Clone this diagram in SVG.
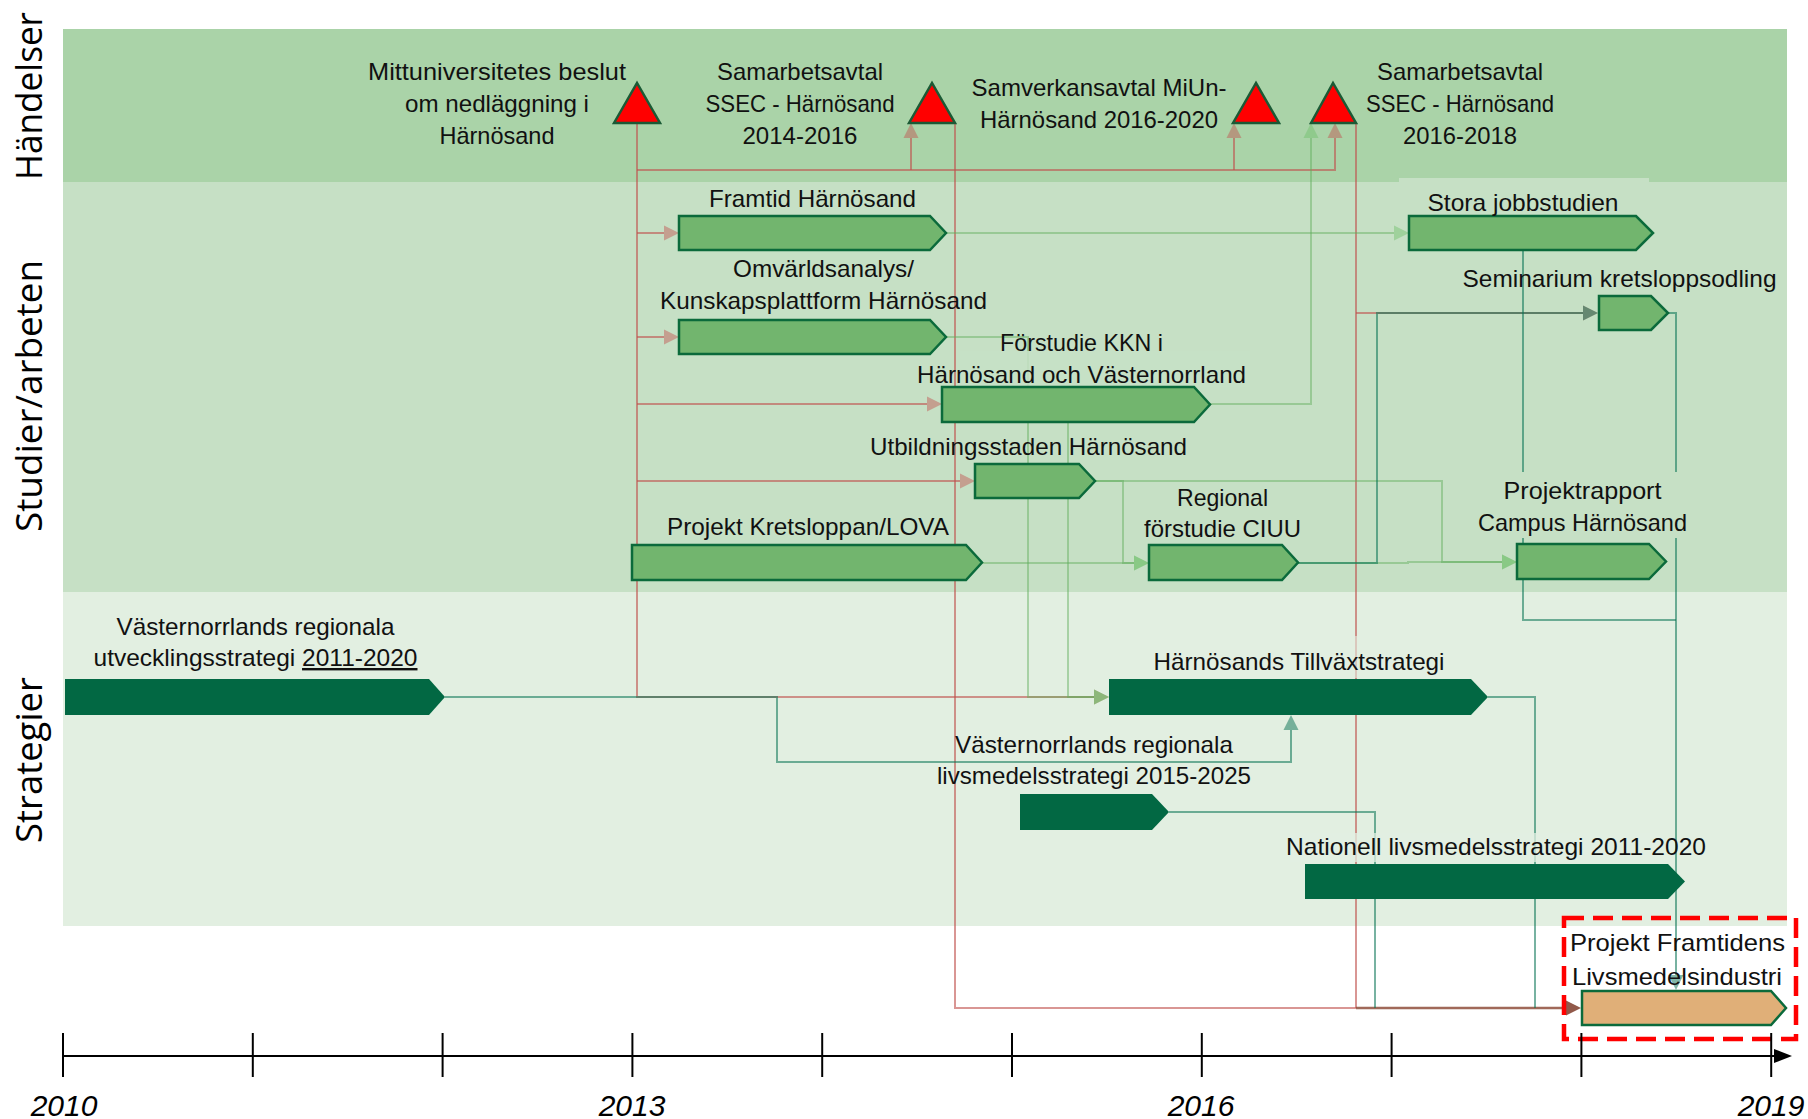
<svg xmlns="http://www.w3.org/2000/svg" width="1808" height="1119" viewBox="0 0 1808 1119">
<style>
.lbl{font-family:"Liberation Sans",Arial,sans-serif;font-size:24px;fill:#111;text-anchor:middle}
.rowt{font-family:"Open Sans","DejaVu Sans",sans-serif;font-size:36px;fill:#000;text-anchor:middle}
.year{font-family:"Liberation Sans",Arial,sans-serif;font-style:italic;font-size:30px;fill:#000;text-anchor:middle}
.study{fill:#72b56e;stroke:#0b6a3b;stroke-width:2.5;stroke-linejoin:miter}
.strat{fill:#026843}
.final{fill:#e0af78;stroke:#0b6a3b;stroke-width:2.5}
.event{fill:#ff0000;stroke:#1b5a35;stroke-width:2.5;stroke-linejoin:miter}
.cr{fill:none;stroke:#c0504d;stroke-opacity:0.6;stroke-width:2}
.cb{fill:none;stroke:#8f4f3c;stroke-opacity:0.85;stroke-width:2.5}
.cg{fill:none;stroke:#5fae5b;stroke-opacity:0.45;stroke-width:2}
.ct{fill:none;stroke:#077253;stroke-opacity:0.55;stroke-width:2}
.tick{stroke:#000;stroke-width:2}
</style>
<defs>
<marker id="aR" viewBox="0 -8 16 16" refX="0" refY="0" markerWidth="16" markerHeight="16" markerUnits="userSpaceOnUse" orient="auto"><path d="M0,-7.5 L15,0 L0,7.5 Z" fill="#c0504d" fill-opacity="0.45"/></marker>
<marker id="aB" viewBox="0 -8 16 16" refX="0" refY="0" markerWidth="16" markerHeight="16" markerUnits="userSpaceOnUse" orient="auto"><path d="M0,-7.5 L15,0 L0,7.5 Z" fill="#8b5040" fill-opacity="0.95"/></marker>
<marker id="aG" viewBox="0 -8 16 16" refX="0" refY="0" markerWidth="16" markerHeight="16" markerUnits="userSpaceOnUse" orient="auto"><path d="M0,-7.5 L15,0 L0,7.5 Z" fill="#6fbf6a" fill-opacity="0.45"/></marker>
<marker id="aT" viewBox="0 -8 16 16" refX="0" refY="0" markerWidth="16" markerHeight="16" markerUnits="userSpaceOnUse" orient="auto"><path d="M0,-7.5 L15,0 L0,7.5 Z" fill="#077253" fill-opacity="0.5"/></marker>
</defs>

<g id="bands">
<rect x="63" y="29" width="1724" height="153" fill="#aad3a8"/>
<rect x="63" y="182" width="1724" height="410" fill="#c6e0c5"/>
<rect x="63" y="592" width="1724" height="334" fill="#e2efe1"/>
<text class="rowt" x="42" y="96" transform="rotate(-90 42 96)" textLength="168" lengthAdjust="spacingAndGlyphs">Händelser</text>
<text class="rowt" x="42" y="396" transform="rotate(-90 42 396)" textLength="272" lengthAdjust="spacingAndGlyphs">Studier/arbeten</text>
<text class="rowt" x="42" y="760" transform="rotate(-90 42 760)" textLength="166" lengthAdjust="spacingAndGlyphs">Strategier</text>
</g>

<g id="connectors">
<path class="cr" d="M637,123 V697 H1094" marker-end="url(#aR)"/>
<path class="cr" d="M637,233 H664" marker-end="url(#aR)"/>
<path class="cr" d="M637,337 H664" marker-end="url(#aR)"/>
<path class="cr" d="M637,404 H927" marker-end="url(#aR)"/>
<path class="cr" d="M637,481 H960" marker-end="url(#aR)"/>
<path class="cr" d="M637,170 H1335 V138" marker-end="url(#aR)"/>
<path class="cr" d="M911,170 V138" marker-end="url(#aR)"/>
<path class="cr" d="M1234,170 V138" marker-end="url(#aR)"/>
<path class="cr" d="M955,123 V1008 H1356"/>
<path class="cr" d="M1356,123 V1008"/>
<path class="cb" d="M1356,1008 H1566" marker-end="url(#aB)"/>
<path class="cr" d="M1356,313 H1583" marker-end="url(#aR)"/>

<path class="cg" d="M946,233 H1394" marker-end="url(#aG)"/>
<path class="cg" d="M1210,404 H1311 V138" marker-end="url(#aG)"/>
<path class="cg" d="M946,337 H1028 V697 H1094" marker-end="url(#aG)"/>
<path class="cg" d="M1068,422 V697 H1094" marker-end="url(#aG)"/>
<path class="cg" d="M1095,481 H1123 V563 H1134" marker-end="url(#aG)"/>
<path class="cg" d="M1095,481 H1442 V562 H1502" marker-end="url(#aG)"/>
<path class="cg" d="M982,563 H1134" marker-end="url(#aG)"/>
<path class="cg" d="M1298,563 H1408 V562 H1502" marker-end="url(#aG)"/>

<path class="ct" d="M445,697 H777 V762 H1291 V730" marker-end="url(#aT)"/>
<path class="ct" d="M1488,697 H1535 V1008"/>
<path class="ct" d="M1169,812 H1375 V1008"/>
<path class="ct" d="M1298,563 H1377 V313 H1583" marker-end="url(#aT)"/>
<path class="ct" d="M1523,250 V620 H1676"/>
<path class="ct" d="M1668,313 H1676 V975" marker-end="url(#aT)"/>
</g>

<g id="textboxes">
<rect x="1399" y="178" width="250" height="34" fill="#c6e0c5"/>
<rect x="960" y="351" width="290" height="36" fill="#c6e0c5" fill-opacity="0.85"/>
<rect x="1478" y="472" width="210" height="66" fill="#c6e0c5"/>
<rect x="1145" y="636" width="310" height="42" fill="#e2efe1" fill-opacity="0.6"/>
<rect x="1290" y="833" width="370" height="29" fill="#e2efe1" fill-opacity="0.75"/>
</g>

<g id="ev-mittuni">
<polygon class="event" points="614,123 637,83 660,123"/>
<text class="lbl" x="497" y="80" textLength="258" lengthAdjust="spacingAndGlyphs">Mittuniversitetes beslut</text>
<text class="lbl" x="497" y="112" textLength="184" lengthAdjust="spacingAndGlyphs">om nedläggning i</text>
<text class="lbl" x="497" y="144" textLength="115" lengthAdjust="spacingAndGlyphs">Härnösand</text>
</g>
<g id="ev-ssec-2014">
<polygon class="event" points="909,123 932,83 955,123"/>
<text class="lbl" x="800" y="80" textLength="166" lengthAdjust="spacingAndGlyphs">Samarbetsavtal</text>
<text class="lbl" x="800" y="112" textLength="189" lengthAdjust="spacingAndGlyphs">SSEC - Härnösand</text>
<text class="lbl" x="800" y="144" textLength="115" lengthAdjust="spacingAndGlyphs">2014-2016</text>
</g>
<g id="ev-samverkan">
<polygon class="event" points="1233,123 1256,83 1279,123"/>
<text class="lbl" x="1099" y="96" textLength="255" lengthAdjust="spacingAndGlyphs">Samverkansavtal MiUn-</text>
<text class="lbl" x="1099" y="128" textLength="238" lengthAdjust="spacingAndGlyphs">Härnösand 2016-2020</text>
</g>
<g id="ev-ssec-2016">
<polygon class="event" points="1311,123 1333,83 1356,123"/>
<text class="lbl" x="1460" y="80" textLength="166" lengthAdjust="spacingAndGlyphs">Samarbetsavtal</text>
<text class="lbl" x="1460" y="112" textLength="188" lengthAdjust="spacingAndGlyphs">SSEC - Härnösand</text>
<text class="lbl" x="1460" y="144" textLength="114" lengthAdjust="spacingAndGlyphs">2016-2018</text>
</g>

<g id="st-framtid">
<polygon class="study" points="679,216 930,216 946,233 930,250 679,250"/>
<text class="lbl" x="812.5" y="207" textLength="207" lengthAdjust="spacingAndGlyphs">Framtid Härnösand</text>
</g>
<g id="st-omvarld">
<polygon class="study" points="679,320 930,320 946,337 930,354 679,354"/>
<text class="lbl" x="823.5" y="277" textLength="181" lengthAdjust="spacingAndGlyphs">Omvärldsanalys/</text>
<text class="lbl" x="823.5" y="309" textLength="327" lengthAdjust="spacingAndGlyphs">Kunskapsplattform Härnösand</text>
</g>
<g id="st-kkn">
<polygon class="study" points="942,387 1194,387 1210,404.5 1194,422 942,422"/>
<text class="lbl" x="1081.5" y="351" textLength="163" lengthAdjust="spacingAndGlyphs">Förstudie KKN i</text>
<text class="lbl" x="1081.5" y="383" textLength="329" lengthAdjust="spacingAndGlyphs">Härnösand och Västernorrland</text>
</g>
<g id="st-utbildning">
<polygon class="study" points="975,464 1079,464 1095,481 1079,498 975,498"/>
<text class="lbl" x="1028.5" y="455" textLength="317" lengthAdjust="spacingAndGlyphs">Utbildningsstaden Härnösand</text>
</g>
<g id="st-kretsloppan">
<polygon class="study" points="632,545 966,545 982,562.5 966,580 632,580"/>
<text class="lbl" x="808" y="535" textLength="282" lengthAdjust="spacingAndGlyphs">Projekt Kretsloppan/LOVA</text>
</g>
<g id="st-ciuu">
<polygon class="study" points="1149,545 1282,545 1298,562.5 1282,580 1149,580"/>
<text class="lbl" x="1222.5" y="506" textLength="91" lengthAdjust="spacingAndGlyphs">Regional</text>
<text class="lbl" x="1222.5" y="537" textLength="157" lengthAdjust="spacingAndGlyphs">förstudie CIUU</text>
</g>
<g id="st-stora">
<polygon class="study" points="1409,216 1636,216 1653,233 1636,250 1409,250"/>
<text class="lbl" x="1523" y="211" textLength="191" lengthAdjust="spacingAndGlyphs">Stora jobbstudien</text>
</g>
<g id="st-seminarium">
<polygon class="study" points="1599,296 1651,296 1668,313 1651,330 1599,330"/>
<text class="lbl" x="1619.5" y="287" textLength="314" lengthAdjust="spacingAndGlyphs">Seminarium kretsloppsodling</text>
</g>
<g id="st-projektrapport">
<polygon class="study" points="1517,544 1649,544 1666,561.5 1649,579 1517,579"/>
<text class="lbl" x="1582.5" y="498.5" textLength="158" lengthAdjust="spacingAndGlyphs">Projektrapport</text>
<text class="lbl" x="1582.5" y="531" textLength="209" lengthAdjust="spacingAndGlyphs">Campus Härnösand</text>
</g>

<g id="sg-utveckling">
<polygon class="strat" points="65,679 429,679 445,697 429,715 65,715"/>
<text class="lbl" x="255.5" y="635" textLength="278" lengthAdjust="spacingAndGlyphs">Västernorrlands regionala</text>
<text class="lbl" x="255.5" y="666" textLength="324" lengthAdjust="spacingAndGlyphs">utvecklingsstrategi <tspan text-decoration="underline">2011-2020</tspan></text>
</g>
<g id="sg-tillvaxt">
<polygon class="strat" points="1109,679 1471,679 1488,697 1471,715 1109,715"/>
<text class="lbl" x="1299" y="669.5" textLength="291" lengthAdjust="spacingAndGlyphs">Härnösands Tillväxtstrategi</text>
</g>
<g id="sg-livsmedel-regional">
<polygon class="strat" points="1020,794 1152,794 1169,812 1152,830 1020,830"/>
<text class="lbl" x="1094" y="753" textLength="278" lengthAdjust="spacingAndGlyphs">Västernorrlands regionala</text>
<text class="lbl" x="1094" y="784" textLength="314" lengthAdjust="spacingAndGlyphs">livsmedelsstrategi 2015-2025</text>
</g>
<g id="sg-nationell">
<polygon class="strat" points="1305,864 1668,864 1685,881.5 1668,899 1305,899"/>
<text class="lbl" x="1496" y="855" textLength="420" lengthAdjust="spacingAndGlyphs">Nationell livsmedelsstrategi 2011-2020</text>
</g>
<g id="pr-framtidens">
<polygon class="final" points="1582,991 1771,991 1786,1008 1771,1025 1582,1025"/>
<text class="lbl" x="1677.5" y="951" textLength="215" lengthAdjust="spacingAndGlyphs">Projekt Framtidens</text>
<text class="lbl" x="1677" y="985" textLength="210" lengthAdjust="spacingAndGlyphs">Livsmedelsindustri</text>
<rect x="1564" y="918" width="232" height="121" fill="none" stroke="#ff0000" stroke-width="4.5" stroke-dasharray="20 9"/>
</g>

<g id="timeline">
<line x1="63" y1="1056" x2="1778" y2="1056" stroke="#000" stroke-width="2"/>
<polygon points="1774,1049 1792,1056 1774,1063" fill="#000"/>
<line class="tick" x1="63" y1="1033" x2="63" y2="1077"/>
<line class="tick" x1="252.8" y1="1033" x2="252.8" y2="1077"/>
<line class="tick" x1="442.6" y1="1033" x2="442.6" y2="1077"/>
<line class="tick" x1="632.4" y1="1033" x2="632.4" y2="1077"/>
<line class="tick" x1="822.2" y1="1033" x2="822.2" y2="1077"/>
<line class="tick" x1="1012" y1="1033" x2="1012" y2="1077"/>
<line class="tick" x1="1201.8" y1="1033" x2="1201.8" y2="1077"/>
<line class="tick" x1="1391.6" y1="1033" x2="1391.6" y2="1077"/>
<line class="tick" x1="1581.4" y1="1033" x2="1581.4" y2="1077"/>
<line class="tick" x1="1771.2" y1="1033" x2="1771.2" y2="1077"/>
<text class="year" x="64" y="1116">2010</text>
<text class="year" x="632" y="1116">2013</text>
<text class="year" x="1201" y="1116">2016</text>
<text class="year" x="1771" y="1116">2019</text>
</g>
</svg>
